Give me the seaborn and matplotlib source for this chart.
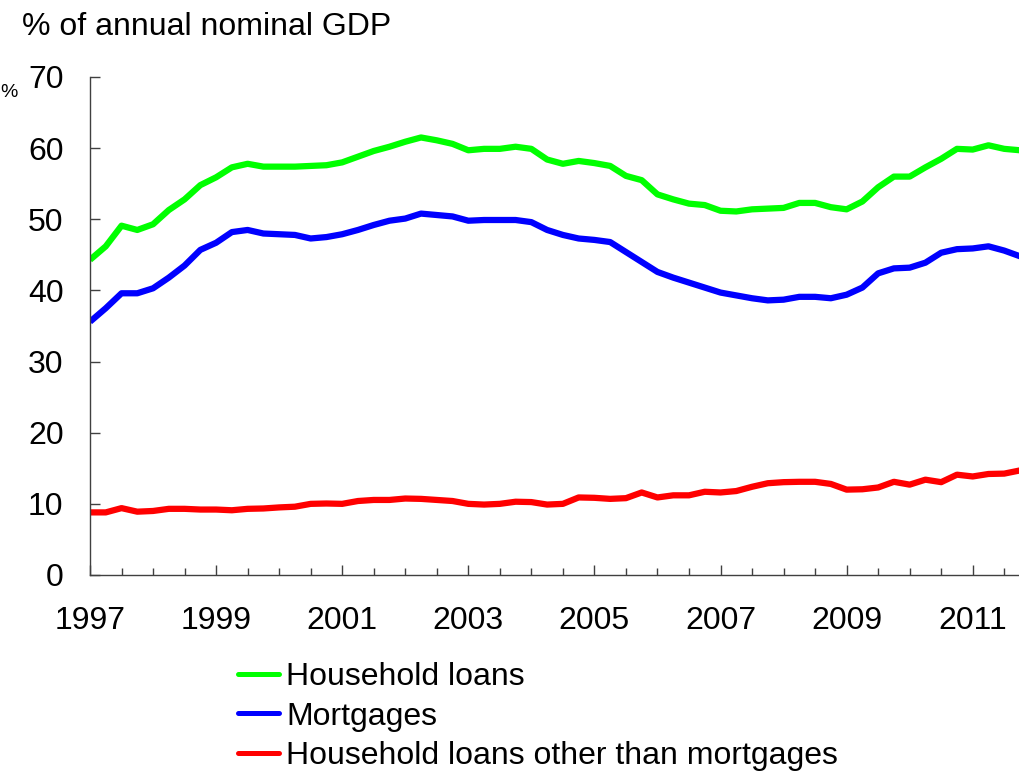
import numpy as np
import pandas as pd
import matplotlib
matplotlib.use("Agg")
import matplotlib.pyplot as plt
from matplotlib.ticker import MultipleLocator, FixedLocator
import seaborn as sns

# Quarterly observations, 1997Q1 - 2011Q4 (% of annual nominal GDP)
start_year = 1997
household_loans = [
    44.3, 46.2, 49.1, 48.5, 49.3, 51.3, 52.8, 54.8, 55.9, 57.3,
    57.8, 57.4, 57.4, 57.4, 57.5, 57.6, 58.0, 58.8, 59.6, 60.2,
    60.9, 61.5, 61.1, 60.6, 59.7, 59.9, 59.9, 60.2, 59.9, 58.4,
    57.8, 58.2, 57.9, 57.5, 56.1, 55.5, 53.5, 52.8, 52.2, 52.0,
    51.2, 51.1, 51.4, 51.5, 51.6, 52.3, 52.3, 51.7, 51.4, 52.5,
    54.5, 56.0, 56.0, 57.3, 58.5, 59.9, 59.8, 60.4, 59.9, 59.7,
]
mortgages = [
    35.6, 37.5, 39.6, 39.6, 40.3, 41.8, 43.5, 45.7, 46.7, 48.2,
    48.5, 48.0, 47.9, 47.8, 47.3, 47.5, 47.9, 48.5, 49.2, 49.8,
    50.1, 50.8, 50.6, 50.4, 49.8, 49.9, 49.9, 49.9, 49.6, 48.5,
    47.8, 47.3, 47.1, 46.8, 45.4, 44.0, 42.6, 41.8, 41.1, 40.4,
    39.7, 39.3, 38.9, 38.6, 38.7, 39.1, 39.1, 38.9, 39.4, 40.4,
    42.4, 43.1, 43.2, 43.9, 45.3, 45.8, 45.9, 46.2, 45.6, 44.8,
]
other_loans = [
    8.8, 8.8, 9.4, 8.9, 9.0, 9.3, 9.3, 9.2, 9.2, 9.1,
    9.3, 9.35, 9.5, 9.6, 10.0, 10.05, 10.0, 10.4, 10.55, 10.55,
    10.75, 10.7, 10.55, 10.4, 10.0, 9.9, 10.0, 10.3, 10.25, 9.9,
    10.0, 10.9, 10.85, 10.7, 10.8, 11.6, 10.9, 11.2, 11.2, 11.7,
    11.6, 11.8, 12.4, 12.9, 13.05, 13.1, 13.1, 12.8, 12.0, 12.05,
    12.3, 13.1, 12.7, 13.4, 13.05, 14.1, 13.85, 14.2, 14.25, 14.7,
]
series_names = [
    "Household loans",
    "Mortgages",
    "Household loans other than mortgages",
]
series_colors = ["#00FF00", "#0000FF", "#FF0000"]
year_labels = [1997, 1999, 2001, 2003, 2005, 2007, 2009, 2011]

n = len(household_loans)
time = start_year + np.arange(n) / 4.0
df = pd.concat(
    [
        pd.DataFrame({"time": time, "value": vals, "series": name})
        for name, vals in zip(series_names, [household_loans, mortgages, other_loans])
    ],
    ignore_index=True,
)

sns.set_theme(style="ticks")
plt.rcParams["font.family"] = ["Liberation Sans", "DejaVu Sans"]
plt.rcParams["text.color"] = "black"
plt.rcParams["xtick.color"] = "black"
plt.rcParams["ytick.color"] = "black"

W, H = 1020, 773
fig = plt.figure(figsize=(W / 100, H / 100), dpi=100)
ax = fig.add_axes([90 / W, 1 - 575 / H, 930 / W, 498 / H])

sns.lineplot(
    data=df, x="time", y="value", hue="series",
    hue_order=series_names, palette=series_colors,
    linewidth=4.5, ax=ax, legend=True,
)
for line in ax.get_lines():
    line.set_solid_joinstyle("round")
    line.set_solid_capstyle("butt")

ax.set_xlim(start_year, time[-1])
ax.set_ylim(0, 70)
ax.yaxis.set_major_locator(MultipleLocator(10))
ax.xaxis.set_major_locator(FixedLocator(year_labels))
ax.xaxis.set_minor_locator(MultipleLocator(0.5))
ax.set_xticklabels([str(y) for y in year_labels])
ax.set_xlabel("")
ax.set_ylabel("")

spine_color = "#404040"
for side in ["top", "right"]:
    ax.spines[side].set_visible(False)
for side in ["left", "bottom"]:
    ax.spines[side].set_color(spine_color)
    ax.spines[side].set_linewidth(1.0)

ax.tick_params(axis="y", which="major", direction="in", length=7, width=1.0,
               color=spine_color, labelsize=23, pad=19, labelcolor="black")
ax.tick_params(axis="x", which="major", direction="in", length=7, width=1.0,
               color=spine_color, labelsize=23, pad=22, labelcolor="black")
ax.tick_params(axis="x", which="minor", direction="in", length=5, width=1.0,
               color=spine_color)

# Header and unit marker
fig.text(22 / W, 1 - 35 / H, "% of annual nominal GDP", fontsize=23,
         ha="left", va="baseline", color="black")
fig.text(0 / W, 1 - 97 / H, "%", fontsize=14, ha="left", va="baseline",
         color="black")

handles, labels = ax.get_legend_handles_labels()
ax.get_legend().remove()
for h in handles:
    h.set_linewidth(3.6)
    h.set_solid_capstyle("round")
leg = fig.legend(
    handles, labels, loc="upper left",
    bbox_to_anchor=(238 / W, 1 - 662 / H),
    frameon=False, fontsize=23, handlelength=1.28, handletextpad=0.22,
    labelspacing=0.30, borderpad=0, borderaxespad=0,
)
for t in leg.get_texts():
    t.set_color("black")

fig.savefig("out.png", dpi=100, facecolor="white")
